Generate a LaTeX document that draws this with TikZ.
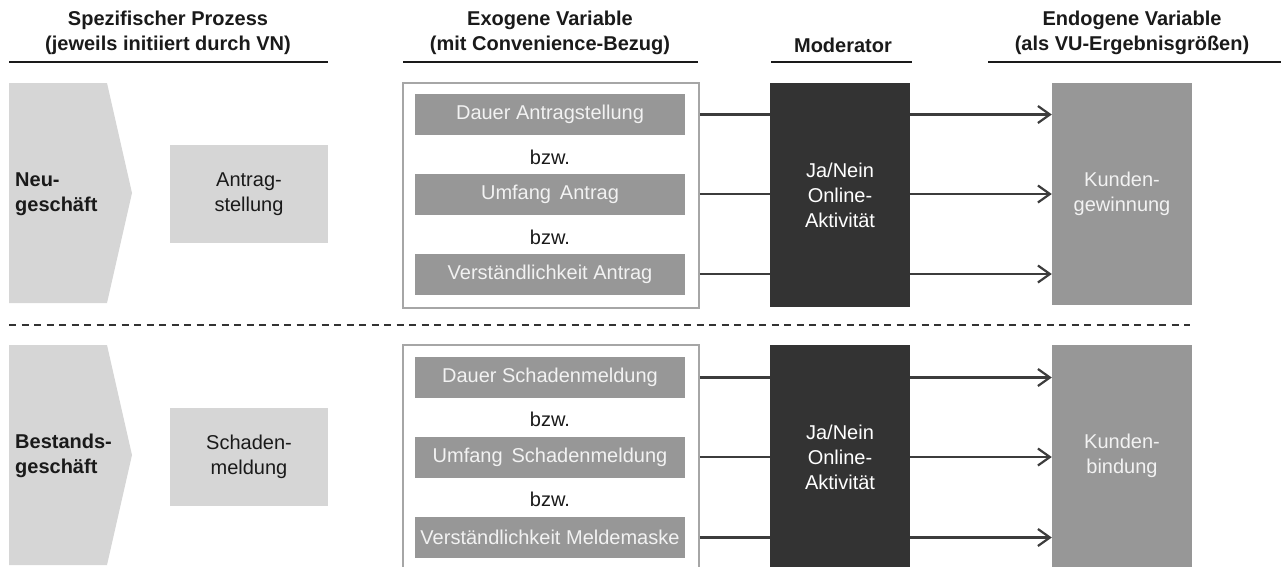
\documentclass[tikz,border=0pt]{standalone}
\usepackage{fontspec}
\setmainfont{Liberation Sans}
\usetikzlibrary{arrows.meta}
\definecolor{lgray}{HTML}{D6D6D6}
\definecolor{mgray}{HTML}{979797}
\definecolor{dgray}{HTML}{333333}
\definecolor{lncol}{HTML}{3C3C3C}
\definecolor{txt}{HTML}{1A1A1A}
\definecolor{wtxt}{HTML}{F2F2F2}
\definecolor{frame}{HTML}{A6A6A6}
\tikzset{
  every node/.style={font=\fontsize{20}{25}\selectfont, text=txt, inner sep=0pt},
  hdr/.style={font=\bfseries\fontsize{20}{25}\selectfont, align=center},
  hline/.style={line width=2.2pt, draw=txt},
  chevtxt/.style={font=\bfseries\fontsize{20}{25}\selectfont, align=left, anchor=west},
  procbox/.style={fill=lgray, minimum width=158pt, minimum height=98pt, align=center},
  outerbox/.style={draw=frame, line width=1.8pt, fill=white, minimum width=296pt, minimum height=225pt},
  varbox/.style={fill=mgray, text=wtxt, minimum width=270pt, minimum height=41pt},
  modbox/.style={fill=dgray, text=white, minimum width=140pt, minimum height=224pt, align=center},
  endbox/.style={fill=mgray, text=wtxt, minimum width=140pt, minimum height=222pt, align=center},
  conn/.style={line width=2.2pt, draw=lncol},
  arr/.style={conn, -{Straight Barb[length=12pt, width=17pt, line width=2.2pt]}},
}
\begin{document}
\begin{tikzpicture}[x=1pt, y=-1pt]
\useasboundingbox (0,0) rectangle (1287,566);
\clip (0,0) rectangle (1287,566);

% headers
\node[hdr] (h1) at (168,33) {Spezifischer Prozess\\(jeweils initiiert durch VN)};
\node[hdr] (h2) at (550,33) {Exogene Variable\\(mit Convenience-Bezug)};
\node[hdr] (h3) at (843,45) {Moderator};
\node[hdr] (h4) at (1132,33) {Endogene Variable\\(als VU-Ergebnisgrößen)};
\coordinate (u1a) at (9,62);   \coordinate (u1b) at (328,62);
\coordinate (u2a) at (403,62); \coordinate (u2b) at (698,62);
\coordinate (u3a) at (771,62); \coordinate (u3b) at (912,62);
\coordinate (u4a) at (988,62); \coordinate (u4b) at (1281,62);
\draw[hline] (u1a) -- (u1b);
\draw[hline] (u2a) -- (u2b);
\draw[hline] (u3a) -- (u3b);
\draw[hline] (u4a) -- (u4b);

% dashed separator
\coordinate (d1) at (9,325); \coordinate (d2) at (1190,325);
\draw[line width=1.6pt, draw=dgray, dash pattern=on 7pt off 5.5pt] (d1) -- (d2);

% ---------- top row ----------
\fill[lgray] (9,83) -- (107,83) -- (132,193) -- (107,303) -- (9,303) -- cycle;
\node[chevtxt] (c1) at (15,194) {Neu-\\geschäft};
\node[procbox] (p1) at (249,194) {Antrag-\\stellung};
\node[outerbox] (o1) at (551,195.5) {};
\node[varbox] (v11) at (550,114.5) {Dauer Antragstellung};
\node (b11) at (550,157) {bzw.};
\node[varbox] (v12) at (550,194) {Umfang\, Antrag};
\node (b12) at (550,237) {bzw.};
\node[varbox] (v13) at (550,274) {Verständlichkeit Antrag};
\node[modbox] (m1) at (840,195) {Ja/Nein\\Online-\\Aktivität};
\node[endbox] (e1) at (1122,194) {Kunden-\\gewinnung};
\foreach \v in {v11,v12,v13}{
  \draw[conn] (o1.east |- \v) -- (m1.west |- \v);
  \draw[arr] (m1.east |- \v) -- (e1.west |- \v);
}

% ---------- bottom row ----------
\fill[lgray] (9,345) -- (107,345) -- (132,455) -- (107,565) -- (9,565) -- cycle;
\node[chevtxt] (c2) at (15,456) {Bestands-\\geschäft};
\node[procbox] (p2) at (249,457) {Schaden-\\meldung};
\node[outerbox] (o2) at (551,457.5) {};
\node[varbox] (v21) at (550,377.5) {Dauer Schadenmeldung};
\node (b21) at (550,419) {bzw.};
\node[varbox] (v22) at (550,457) {Umfang\, Schadenmeldung};
\node (b22) at (550,499) {bzw.};
\node[varbox] (v23) at (550,537.5) {Verständlichkeit Meldemaske};
\node[modbox] (m2) at (840,457) {Ja/Nein\\Online-\\Aktivität};
\node[endbox] (e2) at (1122,456) {Kunden-\\bindung};
\foreach \v in {v21,v22,v23}{
  \draw[conn] (o2.east |- \v) -- (m2.west |- \v);
  \draw[arr] (m2.east |- \v) -- (e2.west |- \v);
}
\end{tikzpicture}
\end{document}
